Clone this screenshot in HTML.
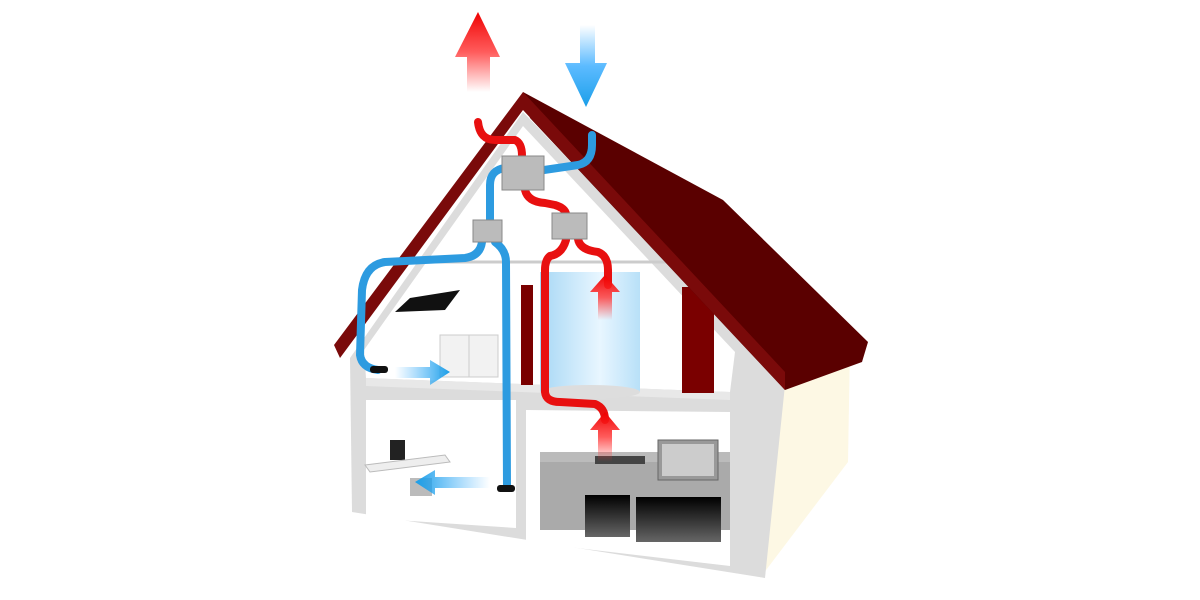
<!DOCTYPE html>
<html><head><meta charset="utf-8"><style>html,body{margin:0;padding:0;background:#fff}svg{display:block}</style></head>
<body>
<svg width="1200" height="600" viewBox="0 0 1200 600" xmlns="http://www.w3.org/2000/svg">
<defs>
<linearGradient id="rg" x1="0" y1="1" x2="0" y2="0"><stop offset="0" stop-color="#f33" stop-opacity="0"/><stop offset="0.5" stop-color="#f33" stop-opacity="0.8"/><stop offset="1" stop-color="#e00"/></linearGradient>
<linearGradient id="bg" x1="0" y1="0" x2="0" y2="1"><stop offset="0" stop-color="#3af" stop-opacity="0"/><stop offset="0.5" stop-color="#3af" stop-opacity="0.8"/><stop offset="1" stop-color="#1a9ee8"/></linearGradient>
<linearGradient id="bgr" x1="0" y1="0" x2="1" y2="0"><stop offset="0" stop-color="#3af" stop-opacity="0"/><stop offset="1" stop-color="#1a9ee8"/></linearGradient>
<linearGradient id="bgl" x1="1" y1="0" x2="0" y2="0"><stop offset="0" stop-color="#3af" stop-opacity="0"/><stop offset="1" stop-color="#1a9ee8"/></linearGradient>
<linearGradient id="tank" x1="0" y1="0" x2="1" y2="0"><stop offset="0" stop-color="#a8d8f5"/><stop offset="0.6" stop-color="#e8f6ff"/><stop offset="1" stop-color="#b8e0f8"/></linearGradient>
<linearGradient id="dk" x1="0" y1="0" x2="0" y2="1"><stop offset="0" stop-color="#000"/><stop offset="1" stop-color="#666"/></linearGradient>
</defs>
<polygon points="780,385 850,345 848,462 760,578" fill="#fdf8e4"/>
<polygon points="350,358 523,112 785,385 765,578 352,512" fill="#dcdcdc"/>
<polygon points="364,350 523,126 735,352 730,392 366,378" fill="#fff"/>
<line x1="400" y1="262" x2="690" y2="262" stroke="#ccc" stroke-width="3"/>
<polygon points="366,378 730,392 730,400 366,386" fill="#e8e8e8"/>
<polygon points="366,400 516,400 516,528 366,518" fill="#fff"/>
<polygon points="526,410 730,412 730,566 526,542" fill="#fff"/>
<rect x="521" y="285" width="12" height="100" fill="#7a0000"/>
<rect x="682" y="287" width="32" height="106" fill="#7a0000"/>
<rect x="540" y="272" width="100" height="120" fill="url(#tank)"/>
<ellipse cx="590" cy="392" rx="50" ry="7" fill="#ddd"/>
<polygon points="410,298 460,290 445,310 395,312" fill="#111"/>
<rect x="440" y="335" width="58" height="42" fill="#f2f2f2" stroke="#ccc"/>
<line x1="469" y1="335" x2="469" y2="377" stroke="#ccc"/>
<rect x="540" y="458" width="190" height="72" fill="#aaa"/>
<rect x="540" y="452" width="190" height="10" fill="#bbb"/>
<rect x="585" y="495" width="45" height="42" fill="url(#dk)"/>
<rect x="636" y="497" width="85" height="45" fill="url(#dk)"/>
<rect x="658" y="440" width="60" height="40" fill="#999" stroke="#666"/>
<rect x="662" y="444" width="52" height="32" fill="#ccc"/>
<rect x="595" y="456" width="50" height="8" fill="#444"/>
<rect x="390" y="440" width="15" height="20" fill="#222"/>
<polygon points="365,465 445,455 450,462 370,472" fill="#eee" stroke="#bbb"/>
<rect x="410" y="478" width="22" height="18" fill="#bbb"/>
<polygon points="523,92 723,200 868,342 862,362 785,390 530,118" fill="#5a0000"/>
<polygon points="334,345 523,92 785,372 785,390 523,110 340,358" fill="#7a0a0a"/>
<polygon points="478,12 500,57 490,57 490,92 467,92 467,57 455,57" fill="url(#rg)"/>
<polygon points="580,25 595,25 595,63 607,63 586,107 565,63 580,63" fill="url(#bg)"/>
<g fill="none" stroke-width="8" stroke-linecap="round" stroke-linejoin="round">
<path d="M478,122 Q480,140 495,140 L515,140 Q522,143 522,156" stroke="#e81010"/>
<path d="M525,190 Q528,202 545,203 L555,205 Q565,208 566,214" stroke="#e81010"/>
<path d="M578,239 Q580,250 598,252 Q608,256 608,270 L608,285" stroke="#e81010"/>
<path d="M566,240 Q562,254 550,256 Q545,260 545,270 L545,392 Q546,402 560,402 L595,404 Q605,408 605,420" stroke="#e81010"/>
<path d="M544,170 L578,165 Q592,162 592,145 L592,135" stroke="#2d9be0"/>
<path d="M505,168 Q490,170 490,185 L490,220" stroke="#2d9be0"/>
<path d="M482,242 Q480,256 465,258 L385,262 Q365,265 362,290 L360,355 Q362,368 378,370" stroke="#2d9be0"/>
<path d="M495,242 Q506,250 506,262 L507,488" stroke="#2d9be0"/>
</g>
<rect x="370" y="366" width="18" height="7" rx="3" fill="#111"/>
<rect x="497" y="485" width="18" height="7" rx="3" fill="#111"/>
<rect x="502" y="156" width="42" height="34" fill="#bbb" stroke="#888"/>
<rect x="473" y="220" width="29" height="22" fill="#bbb" stroke="#888"/>
<rect x="552" y="213" width="35" height="26" fill="#bbb" stroke="#888"/>
<polygon points="605,275 620,292 612,292 612,320 598,320 598,292 590,292" fill="url(#rg)"/>
<polygon points="605,412 620,430 612,430 612,462 598,462 598,430 590,430" fill="url(#rg)"/>
<polygon points="450,372 430,360 430,367 395,367 395,378 430,378 430,385" fill="url(#bgr)"/>
<polygon points="415,482 435,470 435,477 490,477 490,488 435,488 435,495" fill="url(#bgl)"/>
</svg>
</body></html>
